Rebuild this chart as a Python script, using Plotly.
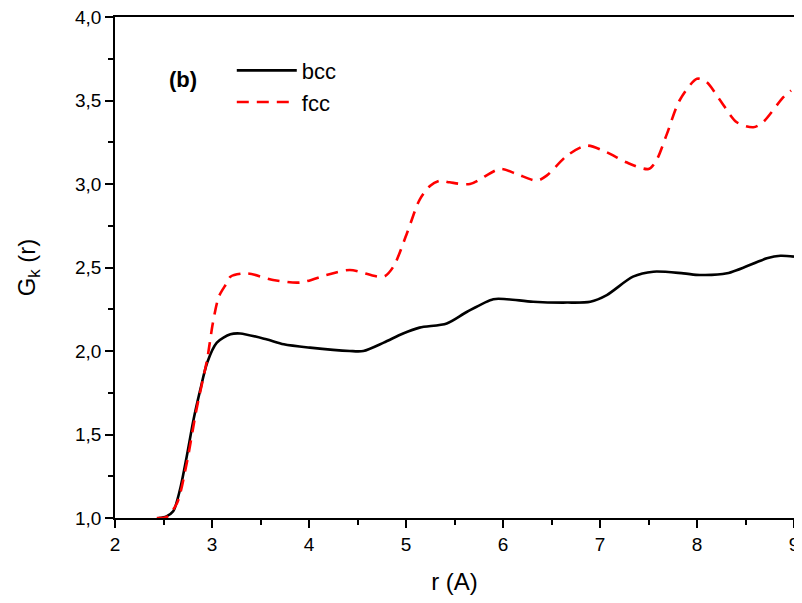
import plotly.graph_objects as go

r_bcc = [2.45, 2.53, 2.60, 2.67, 2.74, 2.81, 2.88, 2.95, 3.05, 3.19, 3.29, 3.56, 3.74, 4.01, 4.42, 4.56,
         4.77, 4.97, 5.14, 5.42, 5.63, 5.90, 6.04, 6.31, 6.66, 6.90, 7.07, 7.34, 7.55, 7.86, 8.03,
         8.31, 8.72, 8.86, 9.0]
g_bcc = [1.0, 1.01, 1.04, 1.17, 1.37, 1.59, 1.77, 1.93, 2.05, 2.10, 2.105, 2.07, 2.04, 2.02, 2.0, 2.0,
         2.05, 2.105, 2.14, 2.165, 2.235, 2.31, 2.31, 2.295, 2.29, 2.295, 2.335, 2.445, 2.475, 2.465, 2.455,
         2.465, 2.555, 2.57, 2.565]

r_fcc = [2.43, 2.53, 2.64, 2.74, 2.84, 2.95, 3.01, 3.07, 3.15, 3.19, 3.36, 3.63, 3.91, 4.18, 4.42, 4.77,
         4.87, 5.01, 5.14, 5.25, 5.35, 5.45, 5.66, 5.97, 6.14, 6.35, 6.45, 6.66, 6.86, 7.07, 7.27,
         7.50, 7.58, 7.69, 7.82, 8.0, 8.10, 8.24, 8.41, 8.58, 8.68, 8.89, 8.97]
g_fcc = [1.0, 1.005, 1.09, 1.33, 1.65, 1.95, 2.17, 2.325, 2.405, 2.445, 2.465, 2.425, 2.41, 2.455, 2.485, 2.445,
         2.505, 2.705, 2.905, 2.99, 3.02, 3.01, 3.0, 3.09, 3.06, 3.02, 3.05, 3.17, 3.23, 3.19, 3.13,
         3.09, 3.14, 3.30, 3.50, 3.63, 3.61, 3.50, 3.37, 3.34, 3.37, 3.52, 3.56]

x_ticks = [2, 3, 4, 5, 6, 7, 8, 9]
y_ticks = [1.0, 1.5, 2.0, 2.5, 3.0, 3.5, 4.0]
y_labels = ["1,0", "1,5", "2,0", "2,5", "3,0", "3,5", "4,0"]

font = "Liberation Sans, Arial, sans-serif"

fig = go.Figure()
fig.add_trace(go.Scatter(x=r_bcc, y=g_bcc, mode="lines", name="bcc",
                         line=dict(color="black", width=2.6, shape="spline", smoothing=0.8)))
fig.add_trace(go.Scatter(x=r_fcc, y=g_fcc, mode="lines", name="fcc",
                         line=dict(color="#ff0000", width=2.6, shape="spline", smoothing=0.8,
                                   dash="12px,8px")))

fig.add_annotation(x=0.077, y=0.875, xref="paper", yref="paper", text="<b>(b)</b>",
                   showarrow=False, font=dict(family=font, size=22, color="black"),
                   xanchor="left", yanchor="middle")

fig.update_layout(
    width=794, height=587,
    margin=dict(l=107, r=8, t=9, b=77),
    paper_bgcolor="white", plot_bgcolor="white",
    font=dict(family=font, color="black"),
    showlegend=True,
    legend=dict(x=0.172, y=0.935, xanchor="left", yanchor="top",
                bgcolor="rgba(0,0,0,0)", font=dict(family=font, size=22),
                itemwidth=60, tracegroupgap=0),
    xaxis=dict(range=[2, 9], tickvals=x_ticks, ticktext=[str(v) for v in x_ticks],
               ticks="outside", ticklen=8, tickwidth=1.5, tickcolor="black",
               showline=True, linecolor="black", linewidth=1.5, mirror=True,
               showgrid=False, zeroline=False, automargin=False, ticklabeloverflow="allow",
               tickfont=dict(family=font, size=19),
               minor=dict(dtick=0.5, ticks="outside", ticklen=5, tickwidth=1.5, tickcolor="black", showgrid=False),
               title=dict(text="r (A)", font=dict(family=font, size=24), standoff=22)),
    yaxis=dict(range=[1, 4], tickvals=y_ticks, ticktext=y_labels,
               ticks="outside", ticklen=8, tickwidth=1.5, tickcolor="black",
               showline=True, linecolor="black", linewidth=1.5, mirror=True,
               showgrid=False, zeroline=False, automargin=False, ticklabeloverflow="allow",
               tickfont=dict(family=font, size=19),
               minor=dict(dtick=0.25, ticks="outside", ticklen=5, tickwidth=1.5, tickcolor="black", showgrid=False),
               title=dict(text="G<sub>k</sub> (r)", font=dict(family=font, size=24), standoff=33)),
)

fig.write_html("out.html")
